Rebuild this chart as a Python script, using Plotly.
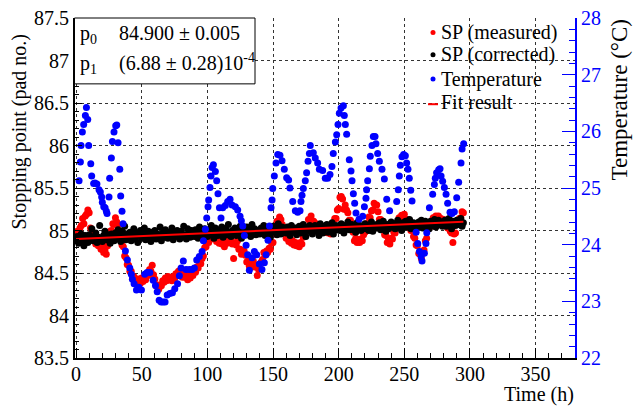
import plotly.graph_objects as go

# ---------------- data ----------------
# Stopping point samples (one per hour)
hours = list(range(0, 296))

sp_measured = [
    84.93, 84.99, 84.96, 85.03, 85.06, 85.14, 85.08, 85.17, 85.19, 85.24,
    85.21, 85.03, 84.97, 84.90, 84.92, 84.84, 84.86, 84.82, 84.84, 84.78,
    84.81, 84.74, 84.77, 84.72, 84.82, 84.88, 84.99, 85.00, 85.08, 85.07,
    85.15, 85.10, 85.07, 84.98, 84.95, 84.83, 84.81, 84.70, 84.68, 84.60,
    84.59, 84.52, 84.52, 84.44, 84.46, 84.41, 84.43, 84.39, 84.43, 84.38,
    84.44, 84.40, 84.45, 84.42, 84.49, 84.47, 84.54, 84.52, 84.59, 84.48,
    84.43, 84.35, 84.36, 84.31, 84.36, 84.35, 84.41, 84.39, 84.44, 84.41,
    84.46, 84.43, 84.45, 84.41, 84.46, 84.43, 84.49, 84.47, 84.52, 84.50,
    84.55, 84.45, 84.47, 84.45, 84.50, 84.42, 84.45, 84.44, 84.50, 84.47,
    84.52, 84.51, 84.57, 84.56, 84.63, 84.61, 84.67, 84.70, 84.80, 84.81,
    84.88, 84.86, 84.92, 84.90, 84.96, 84.97, 84.94, 84.87, 84.90, 84.85,
    84.88, 84.84, 84.87, 84.81, 84.86, 84.85, 84.90, 84.86, 84.89, 84.84,
    84.67, 84.85, 84.83, 84.88, 84.78, 84.78, 84.72, 84.75, 84.76, 84.71,
    84.63, 84.64, 84.58, 84.66, 84.61, 84.64, 84.57, 84.59, 84.47, 84.54,
    84.55, 84.63, 84.66, 84.74, 84.71, 84.76, 84.74, 84.79, 84.78, 84.85,
    84.86, 84.96, 85.02, 85.11, 85.10, 85.16, 85.13, 85.07, 84.97, 84.97,
    84.91, 84.93, 84.87, 84.90, 84.85, 84.88, 84.83, 84.86, 84.82, 84.85,
    84.81, 84.86, 84.84, 84.92, 84.93, 85.00, 85.03, 85.13, 85.12, 85.17,
    85.10, 85.11, 85.05, 85.08, 85.03, 85.06, 85.01, 85.04, 84.99, 85.03,
    84.98, 85.02, 84.97, 85.01, 84.96, 85.00, 85.03, 85.14, 85.14, 85.24,
    85.26, 85.39, 85.40, 85.37, 85.25, 85.30, 85.24, 85.21, 85.12, 85.12,
    85.01, 84.98, 84.88, 84.91, 84.86, 84.89, 84.86, 84.90, 84.88, 84.95,
    84.98, 85.08, 85.08, 85.16, 85.15, 85.23, 85.24, 85.32, 85.30, 85.30,
    85.22, 85.13, 85.13, 85.04, 85.04, 84.95, 84.94, 84.86, 84.89, 84.84,
    84.91, 84.90, 84.98, 84.97, 85.08, 85.08, 85.15, 85.13, 85.18, 85.15,
    85.19, 85.12, 85.13, 85.06, 85.07, 85.00, 85.01, 84.93, 84.91, 84.83,
    84.82, 84.73, 84.72, 84.67, 84.75, 84.77, 84.88, 84.91, 85.02, 85.03,
    85.10, 85.09, 85.15, 85.12, 85.17, 85.14, 85.17, 85.12, 85.14, 85.09,
    85.13, 85.08, 85.10, 85.03, 85.05, 84.99, 84.97, 84.86, 84.96, 84.97,
    85.08, 85.07, 85.14, 85.15, 85.22, 85.21,
]

sp_corrected = [
    84.88, 84.93, 84.85, 84.91, 84.96, 84.87, 84.82, 84.94, 84.90, 84.86,
    84.95, 84.89, 85.02, 84.88, 84.93, 84.97, 84.86, 84.92, 85.06, 84.90,
    84.87, 84.94, 84.99, 84.89, 84.95, 84.91, 84.85, 84.96, 84.93, 84.88,
    84.97, 84.90, 85.01, 84.94, 84.87, 84.99, 84.93, 85.05, 84.89, 84.96,
    84.92, 84.98, 84.88, 84.95, 85.02, 84.90, 84.97, 84.86, 84.94, 85.00,
    84.91, 84.96, 85.03, 84.89, 84.95, 84.99, 84.92, 84.87, 84.98, 84.94,
    85.00, 84.90, 84.96, 84.93, 85.04, 84.88, 84.97, 84.92, 85.01, 84.95,
    84.91, 84.98, 84.94, 85.03, 84.89, 84.97, 84.93, 85.00, 84.96, 84.90,
    84.99, 84.93, 85.05, 84.95, 84.90, 85.02, 84.97, 84.92, 85.00, 84.96,
    84.93, 85.01, 84.97, 84.91, 85.04, 84.95, 84.99, 84.89, 85.02, 84.96,
    84.93, 85.00, 84.95, 85.06, 84.97, 84.91, 85.03, 84.98, 84.94, 85.01,
    84.96, 85.04, 84.92, 84.99, 85.02, 84.95, 85.07, 84.97, 84.93, 85.00,
    84.97, 85.03, 84.94, 85.00, 84.96, 85.05, 84.91, 84.99, 85.02, 84.95,
    85.04, 84.96, 85.01, 84.93, 85.07, 84.98, 85.02, 84.95, 85.00, 84.97,
    84.96, 85.03, 84.99, 85.06, 84.94, 85.01, 84.97, 85.04, 84.92, 85.00,
    85.05, 84.98, 85.03, 84.95, 85.08, 85.00, 84.96, 85.04, 84.99, 85.02,
    84.97, 85.04, 85.00, 84.94, 85.06, 85.02, 84.98, 85.03, 84.95, 85.01,
    85.05, 84.97, 85.02, 85.07, 84.99, 84.93, 85.04, 85.00, 85.06, 84.98,
    84.96, 85.02, 85.06, 84.99, 85.04, 84.94, 85.08, 85.01, 84.97, 85.05,
    85.02, 85.07, 84.98, 85.04, 85.00, 85.09, 84.96, 85.03, 85.06, 85.01,
    85.05, 85.00, 85.08, 85.03, 84.97, 85.06, 85.02, 85.10, 85.01, 85.04,
    85.07, 85.01, 85.04, 84.98, 85.09, 85.03, 85.06, 85.00, 85.05, 85.02,
    85.08, 85.02, 85.06, 85.00, 85.04, 85.10, 84.99, 85.05, 85.03, 85.07,
    85.03, 85.09, 85.01, 85.06, 85.11, 85.04, 84.99, 85.07, 85.02, 85.05,
    85.10, 85.04, 85.08, 85.02, 85.06, 85.12, 85.03, 85.07, 85.00, 85.09,
    85.05, 85.11, 85.04, 85.08, 85.13, 85.02, 85.06, 85.09, 85.03, 85.07,
    85.04, 85.10, 85.06, 85.12, 85.03, 85.08, 85.11, 85.05, 85.09, 85.02,
    85.11, 85.06, 85.09, 85.13, 85.04, 85.08, 85.12, 85.07, 85.10, 85.05,
    85.08, 85.12, 85.05, 85.10, 85.14, 85.07, 85.02, 85.11, 85.09, 85.06,
    85.12, 85.07, 85.10, 85.14, 85.05, 85.09,
]

# Temperature (right axis)
temp_time = [
    2.3, 3.3, 3.8, 4.8, 5.8, 7.1, 7.9, 8.9, 9.6, 11.2, 11.9, 13.4, 14.4, 15.9,
    17.5, 18.5, 19.5, 20.0, 21.1, 22.1, 23.1, 23.6, 25.1, 25.6, 26.9, 27.7,
    28.9, 30.2, 31.0, 32.0, 33.3, 34.0, 35.0, 35.8, 37.6, 39.1, 40.9, 42.1,
    42.9, 44.2, 46.0, 47.8, 49.8, 52.3, 54.1, 56.2, 58.7, 60.5, 61.8, 63.3,
    64.8, 66.3, 67.8, 69.4, 71.4, 73.4, 75.2, 77.3, 78.7, 80.0, 81.7, 83.8,
    86.3, 88.3, 90.1, 91.9, 93.9, 96.0, 97.0, 98.5, 99.5, 100.5, 101.0, 102.0,
    102.8, 103.6, 104.6, 106.1, 107.1, 108.1, 109.2, 110.4, 111.7, 113.7,
    115.5, 117.3, 118.8, 121.3, 123.1, 124.9, 125.9, 127.0, 128.2, 129.5,
    130.7, 132.0, 134.0, 135.8, 137.6, 139.6, 141.6, 143.4, 144.7, 146.2,
    147.3, 148.5, 149.3, 149.8, 151.0, 152.3, 153.6, 155.3, 156.9, 158.6,
    160.4, 161.9, 162.9, 165.0, 167.0, 168.8, 170.6, 171.3, 172.1, 173.1,
    174.6, 175.6, 176.7, 177.7, 178.4, 180.7, 182.2, 184.0, 185.3, 187.8,
    189.8, 191.6, 193.4, 194.9, 195.9, 197.5, 198.5, 199.5, 200.5, 201.8,
    203.6, 204.3, 205.1, 206.1, 208.1, 209.4, 210.2, 211.2, 212.2, 213.2,
    215.5, 218.3, 219.6, 220.8, 221.3, 222.1, 223.4, 224.1, 225.4, 226.4,
    227.7, 228.4, 229.7, 231.0, 233.0, 234.8, 236.6, 238.8, 244.2, 245.4,
    246.2, 247.0, 248.2, 249.5, 250.8, 251.8, 252.8, 253.8, 254.9, 255.9,
    259.0, 260.2, 261.5, 262.8, 263.5, 265.3, 266.5, 267.1, 269.1, 271.6,
    272.9, 273.6, 274.6, 276.2, 277.2, 278.0, 279.2, 280.5, 281.8, 283.0,
    284.8, 286.3, 288.1, 289.9, 291.4, 293.2, 294.0, 295.2,
]
temperature = [
    25.13, 25.46, 25.75, 25.99, 26.12, 26.28, 26.42, 26.21, 25.75, 25.43, 25.21, 25.08, 25.09, 25.07,
    24.97, 24.93, 24.84, 24.75, 24.67, 24.65, 24.59, 24.55, 24.84, 25.17, 25.53, 25.82,
    25.99, 26.10, 26.11, 25.80, 25.33, 24.86, 24.59, 24.37, 23.89, 23.73, 23.59, 23.48,
    23.39, 23.31, 23.20, 23.25, 23.20, 23.48, 23.51, 23.51, 23.37, 23.28, 23.17, 23.02,
    22.99, 22.99, 22.99, 23.11, 23.14, 23.15, 23.22, 23.31, 23.45, 23.59, 23.71, 23.56,
    23.56, 23.56, 23.59, 23.73, 23.79, 23.88, 24.07, 24.27, 24.47, 24.67, 24.79, 25.01,
    25.21, 25.36, 25.41, 25.29, 25.13, 24.90, 24.65, 24.47, 24.65, 24.69,
    24.76, 24.80, 24.70, 24.67, 24.61, 24.50, 24.42, 24.33, 24.16, 23.99,
    23.82, 23.55, 23.77, 23.88, 23.82, 23.66, 23.56, 23.68, 23.82, 24.08,
    24.33, 24.65, 24.79, 24.99, 25.21, 25.44, 25.59, 25.58, 25.48, 25.33,
    25.18, 25.14, 25.00, 24.76, 24.60, 24.57, 24.60, 24.76, 24.87, 24.99,
    25.13, 25.27, 25.47, 25.61, 25.75, 25.62, 25.53, 25.44, 25.33, 25.31,
    25.17, 25.17, 25.24, 25.38, 25.61, 25.81, 25.94, 26.12, 26.32, 26.41,
    26.45, 26.28, 26.12, 25.95, 25.50, 25.30, 25.13, 24.90, 24.73, 24.56,
    24.45, 24.50, 24.67, 24.82, 24.97, 25.13, 25.34, 25.56, 25.75, 25.91,
    25.91, 25.78, 25.61, 25.47, 25.33, 25.16, 24.80, 24.60, 24.76, 24.97,
    25.21, 25.40, 25.55, 25.59, 25.57, 25.44, 25.33, 25.17, 24.96, 24.77,
    24.22, 24.02, 23.88, 23.79, 23.71, 23.85, 24.02, 24.21, 24.65, 24.89,
    25.06, 25.17, 25.27, 25.32, 25.34, 25.21, 25.12, 25.01, 24.89, 24.73,
    24.57, 24.55, 24.58, 24.83, 25.10, 25.44, 25.69, 25.78,
]

# Linear fit result: SP = p0 + p1 * t
p0, p0_err = 84.900, 0.005
p1, p1_err = 6.88e-4, 0.28e-4
fit_range = [0, 295]

legend_labels = ["SP (measured)", "SP (corrected)", "Temperature", "Fit result"]

# ---------------- figure ----------------
FONT = "Liberation Serif, Times New Roman, serif"
W, H = 633, 407
ML, MR, MT, MB = 75, 58, 7, 49
PW, PH = W - ML - MR, H - MT - MB


def px(xp):
    return (xp - ML) / PW


def py(yp):
    return (H - MB - yp) / PH


fig = go.Figure()
fig.add_trace(go.Scatter(x=hours, y=sp_measured, mode="markers",
                         marker=dict(color="#ff0000", size=7, line=dict(width=0)),
                         name=legend_labels[0]))
fig.add_trace(go.Scatter(x=hours, y=sp_corrected, mode="markers",
                         marker=dict(color="#000000", size=7, line=dict(width=0)),
                         name=legend_labels[1]))
fig.add_trace(go.Scatter(x=fit_range, y=[p0 + p1 * t for t in fit_range], mode="lines",
                         line=dict(color="#ff0000", width=2), name=legend_labels[3]))
fig.add_trace(go.Scatter(x=temp_time, y=temperature, mode="markers", yaxis="y2",
                         marker=dict(color="#0000ff", size=7, line=dict(width=0)),
                         name=legend_labels[2]))

tickfont = dict(family=FONT, size=20, color="#000000")
fig.update_layout(
    width=W, height=H,
    margin=dict(l=ML, r=MR, t=MT, b=MB),
    paper_bgcolor="white", plot_bgcolor="white",
    font=dict(family=FONT, size=20, color="black"),
    showlegend=False,
    xaxis=dict(range=[-0.8, 380], dtick=50, tick0=0, ticks="inside", ticklen=10,
               tickcolor="black", tickwidth=1, ticklabeloverflow="allow",
               ticklabelstandoff=-3,
               minor=dict(ticks="inside", ticklen=5, dtick=10, tickcolor="black", showgrid=False),
               showline=True, linecolor="black", linewidth=2,
               showgrid=True, gridcolor="#333333", griddash="dot", gridwidth=1,
               zeroline=False, tickfont=tickfont),
    yaxis=dict(range=[83.5, 87.5], dtick=0.5, tick0=83.5, ticks="inside", ticklen=7,
               tickcolor="black", tickwidth=1, ticklabeloverflow="allow",
               minor=dict(ticks="inside", ticklen=4, dtick=0.1, tickcolor="black", showgrid=False),
               showline=True, linecolor="black", linewidth=2,
               showgrid=True, gridcolor="#333333", griddash="dot", gridwidth=1,
               zeroline=False, tickfont=tickfont),
    yaxis2=dict(range=[22, 28], dtick=1, overlaying="y", side="right", anchor="x",
                ticks="inside", ticklen=13, tickcolor="#0000ff", tickwidth=1,
                ticklabeloverflow="allow",
                minor=dict(ticks="inside", ticklen=6, dtick=0.2, tickcolor="#0000ff", showgrid=False),
                showline=True, linecolor="#0000ff", linewidth=2, showgrid=False,
                zeroline=False, tickfont=dict(family=FONT, size=20, color="#0000ff")),
)

shapes = []
annotations = []

# fit parameter box
shapes.append(dict(type="rect", xref="paper", yref="paper",
                   x0=px(74.5), x1=px(255), y0=py(75), y1=py(7),
                   line=dict(color="black", width=1), fillcolor="white", layer="above"))
box_font = dict(family=FONT, size=20, color="black")
annotations += [
    dict(x=px(79), y=py(24), text="p<sub>0</sub>", xanchor="left", yanchor="middle"),
    dict(x=px(118), y=py(22), text=f"{p0:.3f} ± {p0_err:.3f}", xanchor="left", yanchor="middle"),
    dict(x=px(79), y=py(55), text="p<sub>1</sub>", xanchor="left", yanchor="middle"),
    dict(x=px(118), y=py(53),
         text=f"({p1 * 1e4:.2f} ± {p1_err * 1e4:.2f})10<sup>-4</sup>",
         xanchor="left", yanchor="middle"),
]

# legend
leg_rows = [22, 45, 70, 94]
leg_colors = ["#ff0000", "#000000", "#0000ff"]
for i in range(3):
    shapes.append(dict(type="circle", xref="paper", yref="paper",
                       xsizemode="pixel", ysizemode="pixel",
                       xanchor=px(433), yanchor=py(leg_rows[i]),
                       x0=-2.5, x1=2.5, y0=-2.5, y1=2.5,
                       fillcolor=leg_colors[i], line=dict(width=0), layer="above"))
shapes.append(dict(type="line", xref="paper", yref="paper",
                   x0=px(428), x1=px(438), y0=py(96), y1=py(96),
                   line=dict(color="#ff0000", width=2), layer="above"))
for i, lab in enumerate(legend_labels):
    annotations.append(dict(x=px(440), y=py(leg_rows[i]), text=lab,
                            xanchor="left", yanchor="middle"))

# axis titles
annotations += [
    dict(x=px(575), y=py(396), text="Time (h)", xanchor="right", yanchor="middle"),
    dict(x=px(20), y=py(22), text="Stopping point (pad no.)", textangle=-90,
         xanchor="center", yanchor="top"),
    dict(x=px(619), y=py(8), text="Temperature (°C)", textangle=-90,
         xanchor="center", yanchor="top", font=dict(family=FONT, size=23, color="black")),
]
for a in annotations:
    a.setdefault("xref", "paper")
    a.setdefault("yref", "paper")
    a.setdefault("showarrow", False)
    a.setdefault("font", box_font)
    a.setdefault("borderpad", 0)

fig.update_layout(shapes=shapes, annotations=annotations)
fig.write_html("out.html")
